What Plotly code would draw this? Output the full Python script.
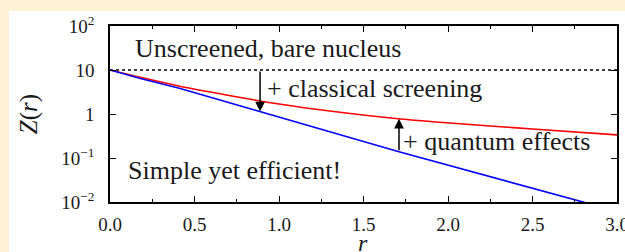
import numpy as np
import plotly.graph_objects as go

# ---- data ----
r_red = [0.0, 0.18, 0.40, 0.68, 0.88, 1.00, 1.30, 1.72, 1.95, 2.50, 3.00]
z_red = [10.0, 6.82, 4.40, 2.75, 2.00, 1.69, 1.17, 0.77, 0.65, 0.457, 0.335]
r_blue = [0.0, 0.18, 0.41, 0.88, 1.71, 2.82]
z_blue = [10.0, 6.4, 3.85, 1.16, 0.139, 0.0095]
r_bare = [0.0, 3.0]
z_bare = [10.0, 10.0]
arrow_r = [0.888, 1.71]
x_ticks = [0.0, 0.5, 1.0, 1.5, 2.0, 2.5, 3.0]
x_ticktext = ["0.0", "0.5", "1.0", "1.5", "2.0", "2.5", "3.0"]
y_ticks = [0.01, 0.1, 1, 10, 100]
y_ticktext = ["10<sup>−2</sup>", "10<sup>−1</sup>", "1", "10", "10<sup>2</sup>"]

# ---- layout geometry (pixels) ----
W, H = 625, 252
L, R, T, B = 110, 617, 26, 202
def px(x): return (x - L) / (R - L)
def py(y): return (B - y) / (B - T)

FONT = "Liberation Serif"
TXT = "#1a1a1a"

fig = go.Figure()
fig.add_trace(go.Scatter(x=r_bare, y=z_bare, mode="lines",
                         line=dict(color="black", width=1.5, dash="dot"), showlegend=False))
fig.add_trace(go.Scatter(x=r_red, y=z_red, mode="lines", line_shape="spline",
                         line=dict(color="#ff0000", width=1.6), showlegend=False))
fig.add_trace(go.Scatter(x=r_blue, y=z_blue, mode="lines",
                         line=dict(color="#0000ff", width=1.6), showlegend=False))

def logi(r, rs, zs):
    return float(np.interp(r, rs, np.log10(zs)))

annotations = []
a1_tail = logi(arrow_r[0], r_bare, z_bare)
a1_head = logi(arrow_r[0], r_blue, z_blue)
a2_tail = logi(arrow_r[1], r_blue, z_blue)
a2_head = logi(arrow_r[1], r_red, z_red)
for x, yt, yh in [(arrow_r[0], a1_tail, a1_head), (arrow_r[1], a2_tail, a2_head)]:
    annotations.append(dict(x=x, y=yh, ax=x, ay=yt, xref="x", yref="y", axref="x", ayref="y",
                            showarrow=True, arrowhead=2, arrowsize=1.3, arrowwidth=1.5,
                            arrowcolor="black", text="", standoff=0, startstandoff=0))

def label(text, xp, yp, size=26, xanchor="left"):
    annotations.append(dict(text=text, x=px(xp), y=py(yp), xref="paper", yref="paper",
                            xanchor=xanchor, yanchor="middle", showarrow=False,
                            font=dict(family=FONT, size=size, color=TXT)))

label("Unscreened, bare nucleus", 133, 48)
label("+ classical screening", 265, 88)
label("+ quantum effects", 401, 141)
label("Simple yet efficient!", 126, 170)
label("<i>r</i>", 363, 243, size=24, xanchor="center")

fig.update_layout(
    width=W, height=H,
    margin=dict(l=L, r=W - R, t=T, b=H - B, autoexpand=False),
    paper_bgcolor="#fef2d6",
    plot_bgcolor="white",
    showlegend=False,
    annotations=annotations,
    shapes=[dict(type="rect", xref="paper", yref="paper",
                 x0=px(9), x1=px(W + 5), y0=py(H + 5), y1=py(11),
                 fillcolor="white", line=dict(width=0), layer="below")],
    xaxis=dict(range=[0, 3], tickvals=x_ticks, ticktext=x_ticktext, automargin=False,
               ticks="inside", ticklen=6, tickwidth=1, tickcolor="black",
               showline=True, linecolor="black", linewidth=1.5, mirror="ticks",
               showgrid=False, zeroline=False, ticklabeloverflow="allow",
               minor=dict(dtick=0.25, ticks="inside", ticklen=3, tickcolor="black", tickwidth=1, showgrid=False),
               tickfont=dict(family=FONT, size=19, color=TXT), ticklabelstandoff=4),
    yaxis=dict(type="log", range=[-2, 2], tickvals=y_ticks, ticktext=y_ticktext, automargin=False,
               ticks="inside", ticklen=6, tickwidth=1, tickcolor="black",
               showline=True, linecolor="black", linewidth=1.5, mirror="ticks",
               showgrid=False, zeroline=False, ticklabeloverflow="allow",
               tickfont=dict(family=FONT, size=19, color=TXT), ticklabelstandoff=10,
               title=dict(text="<i>Z</i>(<i>r</i>)", font=dict(family=FONT, size=25, color=TXT), standoff=17)),
)

fig.write_html("out.html", config={"displayModeBar": False},
               post_script="document.body.style.margin='0';document.body.style.overflow='hidden';")
